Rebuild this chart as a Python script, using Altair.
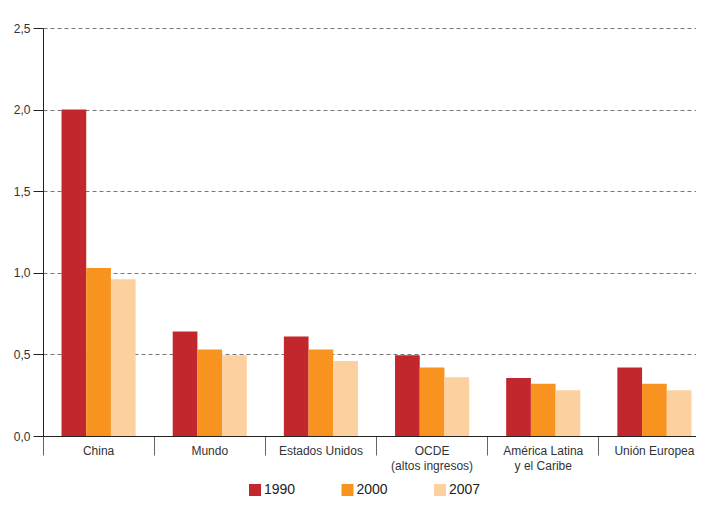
import altair as alt
import pandas as pd

regions = ["China", "Mundo", "Estados Unidos", "OCDE|(altos ingresos)",
           "América Latina|y el Caribe", "Unión Europea"]
years = ["1990", "2000", "2007"]
v1990 = [2.00, 0.64, 0.61, 0.495, 0.355, 0.42]
v2000 = [1.03, 0.53, 0.53, 0.42, 0.32, 0.32]
v2007 = [0.96, 0.495, 0.46, 0.36, 0.28, 0.28]
colors = ["#C1272D", "#F7931E", "#FDD09F"]

rows = []
for i, r in enumerate(regions):
    for y, vals in zip(years, [v1990, v2000, v2007]):
        rows.append({"region": r, "year": y, "value": vals[i]})
df = pd.DataFrame(rows)

FONT = "Liberation Sans"

chart = alt.Chart(df).mark_bar().encode(
    x=alt.X("region:N", sort=regions, title=None,
            scale=alt.Scale(paddingInner=0, paddingOuter=0),
            axis=alt.Axis(labelAngle=0, bandPosition=0,
                          tickSize=19, tickColor="#666", labelPadding=-10,
                          labelExpr="split(datum.label, '|')",
                          labelLineHeight=15, labelFontSize=12, labelColor="#333",
                          labelFont=FONT, domainColor="#222", grid=False)),
    xOffset=alt.XOffset("year:N", sort=years,
                        scale=alt.Scale(paddingInner=0, paddingOuter=0.75)),
    y=alt.Y("value:Q", title=None,
            scale=alt.Scale(domain=[0, 2.5], nice=False),
            axis=alt.Axis(values=[0, 0.5, 1.0, 1.5, 2.0, 2.5],
                          labelExpr="replace(format(datum.value, '.1f'), '.', ',')",
                          tickSize=10, tickColor="#222", domainColor="#222",
                          labelFontSize=12, labelColor="#333", labelFont=FONT,
                          labelPadding=3,
                          grid=True, gridDash=[4, 3], gridColor="#777", gridWidth=1)),
    color=alt.Color("year:N", sort=years,
                    scale=alt.Scale(domain=years, range=colors),
                    legend=alt.Legend(title=None, orient="none", direction="horizontal",
                                      legendX=205, legendY=455,
                                      symbolType="square", symbolSize=144,
                                      symbolStrokeWidth=0, labelFontSize=14,
                                      labelFont=FONT, labelColor="#222",
                                      columnPadding=44.5, labelOffset=2)),
).properties(
    width=667, height=408,
    autosize=alt.AutoSizeParams(type="none"),
    padding={"top": 20, "left": 35, "right": -14, "bottom": 62},
).configure_view(stroke=None)

chart.save("out.html", embed_options={"renderer": "svg", "actions": False})
